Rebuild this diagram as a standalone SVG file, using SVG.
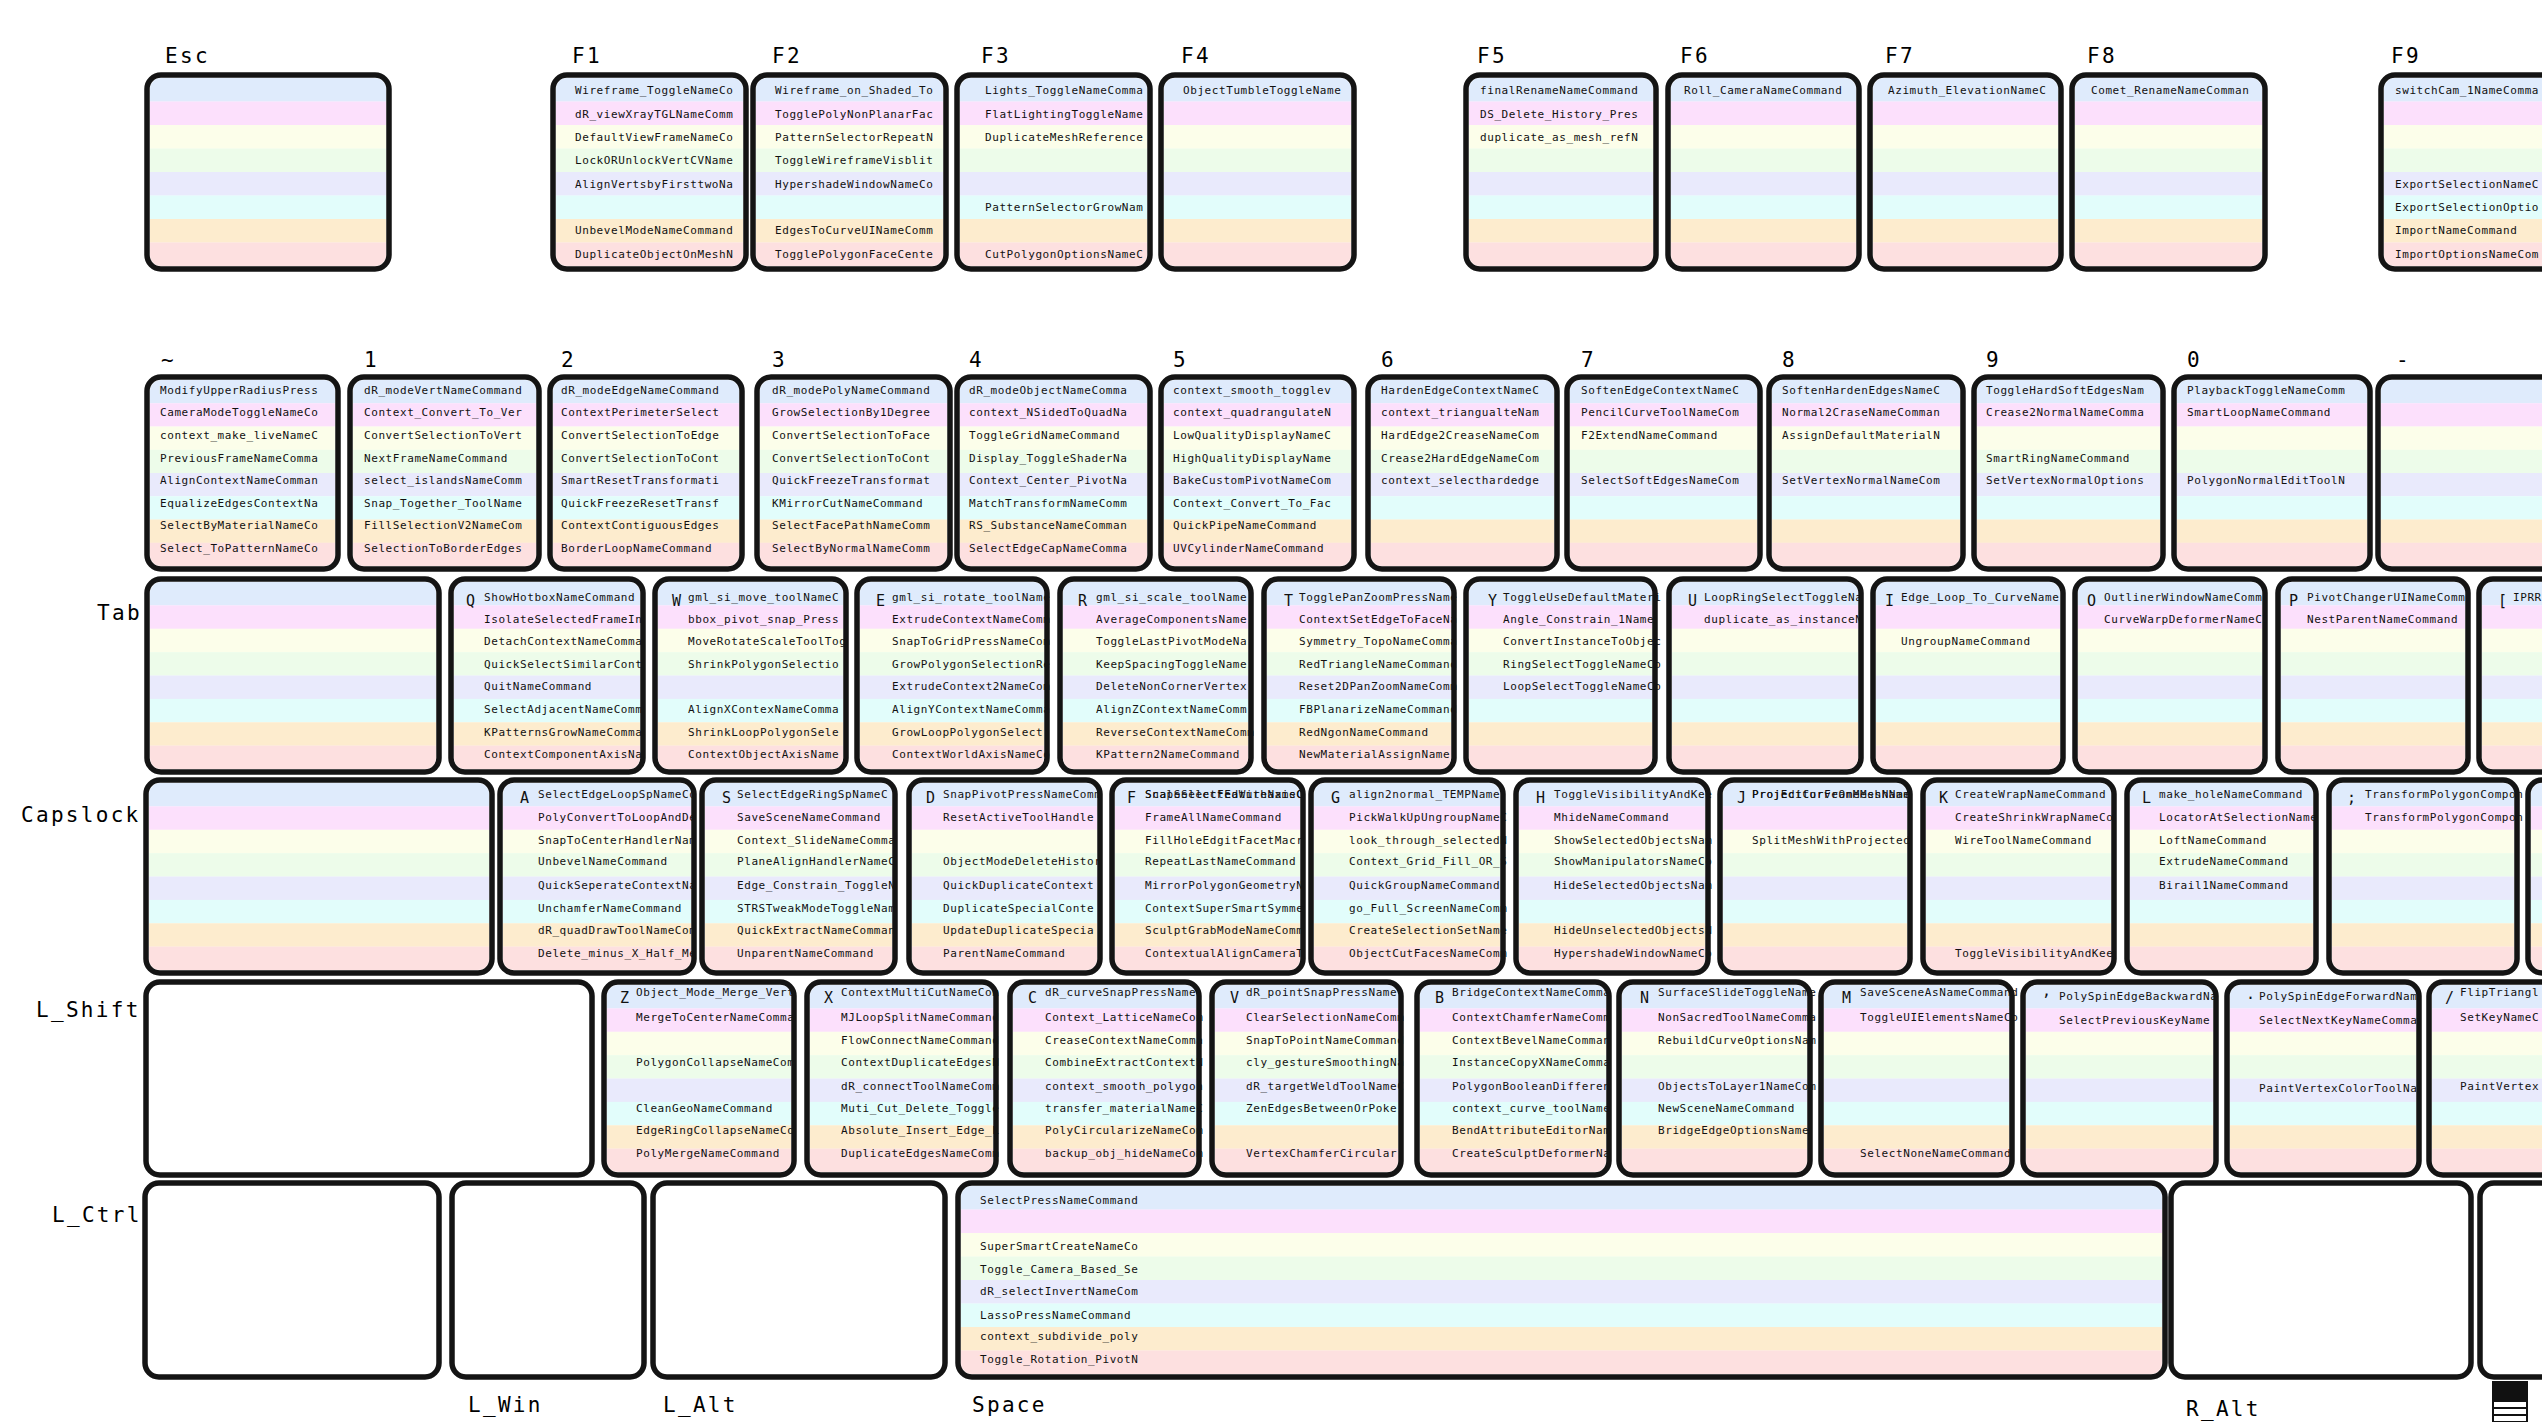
<svg xmlns="http://www.w3.org/2000/svg" width="2542" height="1422" viewBox="0 0 2542 1422">
<defs>
<pattern id="st" width="1" height="1" patternContentUnits="objectBoundingBox">
<rect y="0" width="1" height="0.126" fill="#dfebfc"/>
<rect y="0.125" width="1" height="0.126" fill="#fce0fc"/>
<rect y="0.25" width="1" height="0.126" fill="#fcfeea"/>
<rect y="0.375" width="1" height="0.126" fill="#edfcea"/>
<rect y="0.5" width="1" height="0.126" fill="#e9eafc"/>
<rect y="0.625" width="1" height="0.126" fill="#e2fdfb"/>
<rect y="0.75" width="1" height="0.126" fill="#fdecce"/>
<rect y="0.875" width="1" height="0.125" fill="#fde0e0"/>
</pattern>
</defs>
<style>
.k{fill:none;stroke:#141414;stroke-width:5.5}
.w{fill:#fff;stroke:#141414;stroke-width:5.5}
.s{fill:url(#st)}
.t{font-family:"DejaVu Sans Mono","Liberation Mono",monospace;font-size:11px;letter-spacing:0.58px;fill:#111}
.l{font-family:"DejaVu Sans Mono","Liberation Mono",monospace;font-size:21px;letter-spacing:2.3px;fill:#000}
.c{font-family:"DejaVu Sans Mono","Liberation Mono",monospace;font-size:15px;fill:#111}
</style>
<rect width="2542" height="1422" fill="#fff"/>

<g id="labels">
<text class="l" x="165" y="63">Esc</text>
<text class="l" x="572" y="63">F1</text>
<text class="l" x="772" y="63">F2</text>
<text class="l" x="981" y="63">F3</text>
<text class="l" x="1181" y="63">F4</text>
<text class="l" x="1477" y="63">F5</text>
<text class="l" x="1680" y="63">F6</text>
<text class="l" x="1885" y="63">F7</text>
<text class="l" x="2087" y="63">F8</text>
<text class="l" x="2391" y="63">F9</text>
<text class="l" x="161" y="367">~</text>
<text class="l" x="364" y="367">1</text>
<text class="l" x="561" y="367">2</text>
<text class="l" x="772" y="367">3</text>
<text class="l" x="969" y="367">4</text>
<text class="l" x="1173" y="367">5</text>
<text class="l" x="1381" y="367">6</text>
<text class="l" x="1581" y="367">7</text>
<text class="l" x="1782" y="367">8</text>
<text class="l" x="1986" y="367">9</text>
<text class="l" x="2187" y="367">0</text>
<text class="l" x="2396" y="367">-</text>
<text class="l" x="97" y="620">Tab</text>
<text class="l" x="21" y="822">Capslock</text>
<text class="l" x="36" y="1017">L_Shift</text>
<text class="l" x="52" y="1222">L_Ctrl</text>
<text class="l" x="468" y="1412">L_Win</text>
<text class="l" x="663" y="1412">L_Alt</text>
<text class="l" x="972" y="1412">Space</text>
<text class="l" x="2186" y="1416">R_Alt</text>
</g>

<g id="row-f">
<g id="key-esc"><rect class="s" x="150" y="78" width="236" height="188" rx="11"/><rect class="k" x="147" y="75" width="242" height="194" rx="14"/></g>
<g id="key-f1"><rect class="s" x="556" y="78" width="187" height="188" rx="11"/>
<text class="t"><tspan x="575" y="94">Wireframe_ToggleNameCo</tspan><tspan x="575" y="117.5">dR_viewXrayTGLNameComm</tspan><tspan x="575" y="141">DefaultViewFrameNameCo</tspan><tspan x="575" y="164">LockORUnlockVertCVName</tspan><tspan x="575" y="187.5">AlignVertsbyFirsttwoNa</tspan><tspan x="575" y="234">UnbevelModeNameCommand</tspan><tspan x="575" y="257.5">DuplicateObjectOnMeshN</tspan></text>
<rect class="k" x="553" y="75" width="193" height="194" rx="14"/></g>
<g id="key-f2"><rect class="s" x="756" y="78" width="187" height="188" rx="11"/>
<text class="t"><tspan x="775" y="94">Wireframe_on_Shaded_To</tspan><tspan x="775" y="117.5">TogglePolyNonPlanarFac</tspan><tspan x="775" y="141">PatternSelectorRepeatN</tspan><tspan x="775" y="164">ToggleWireframeVisblit</tspan><tspan x="775" y="187.5">HypershadeWindowNameCo</tspan><tspan x="775" y="234">EdgesToCurveUINameComm</tspan><tspan x="775" y="257.5">TogglePolygonFaceCente</tspan></text>
<rect class="k" x="753" y="75" width="193" height="194" rx="14"/></g>
<g id="key-f3"><rect class="s" x="960" y="78" width="187" height="188" rx="11"/>
<text class="t"><tspan x="985" y="94">Lights_ToggleNameComma</tspan><tspan x="985" y="117.5">FlatLightingToggleName</tspan><tspan x="985" y="141">DuplicateMeshReference</tspan><tspan x="985" y="211">PatternSelectorGrowNam</tspan><tspan x="985" y="257.5">CutPolygonOptionsNameC</tspan></text>
<rect class="k" x="957" y="75" width="193" height="194" rx="14"/></g>
<g id="key-f4"><rect class="s" x="1164" y="78" width="187" height="188" rx="11"/>
<text class="t"><tspan x="1183" y="94">ObjectTumbleToggleName</tspan></text>
<rect class="k" x="1161" y="75" width="193" height="194" rx="14"/></g>
<g id="key-f5"><rect class="s" x="1469" y="78" width="184" height="188" rx="11"/>
<text class="t"><tspan x="1480" y="94">finalRenameNameCommand</tspan><tspan x="1480" y="117.5">DS_Delete_History_Pres</tspan><tspan x="1480" y="141">duplicate_as_mesh_refN</tspan></text>
<rect class="k" x="1466" y="75" width="190" height="194" rx="14"/></g>
<g id="key-f6"><rect class="s" x="1671" y="78" width="185" height="188" rx="11"/>
<text class="t"><tspan x="1684" y="94">Roll_CameraNameCommand</tspan></text>
<rect class="k" x="1668" y="75" width="191" height="194" rx="14"/></g>
<g id="key-f7"><rect class="s" x="1873" y="78" width="185" height="188" rx="11"/>
<text class="t"><tspan x="1888" y="94">Azimuth_ElevationNameC</tspan></text>
<rect class="k" x="1870" y="75" width="191" height="194" rx="14"/></g>
<g id="key-f8"><rect class="s" x="2075" y="78" width="187" height="188" rx="11"/>
<text class="t"><tspan x="2091" y="94">Comet_RenameNameComman</tspan></text>
<rect class="k" x="2072" y="75" width="193" height="194" rx="14"/></g>
<g id="key-f9"><rect class="s" x="2384" y="78" width="194" height="188" rx="11"/>
<text class="t"><tspan x="2395" y="94">switchCam_1NameComma</tspan><tspan x="2395" y="187.5">ExportSelectionNameC</tspan><tspan x="2395" y="211">ExportSelectionOptio</tspan><tspan x="2395" y="234">ImportNameCommand</tspan><tspan x="2395" y="257.5">ImportOptionsNameCom</tspan></text>
<rect class="k" x="2381" y="75" width="200" height="194" rx="14"/></g>
</g>

<g id="row-num">
<g id="key-tilde"><rect class="s" x="150" y="380" width="185" height="186" rx="11"/>
<text class="t"><tspan x="160" y="394">ModifyUpperRadiusPress</tspan><tspan x="160" y="416">CameraModeToggleNameCo</tspan><tspan x="160" y="438.5">context_make_liveNameC</tspan><tspan x="160" y="461.5">PreviousFrameNameComma</tspan><tspan x="160" y="483.5">AlignContextNameComman</tspan><tspan x="160" y="507">EqualizeEdgesContextNa</tspan><tspan x="160" y="529">SelectByMaterialNameCo</tspan><tspan x="160" y="551.5">Select_ToPatternNameCo</tspan></text>
<rect class="k" x="147" y="377" width="191" height="192" rx="14"/></g>
<g id="key-1"><rect class="s" x="353" y="380" width="183" height="186" rx="11"/>
<text class="t"><tspan x="364" y="394">dR_modeVertNameCommand</tspan><tspan x="364" y="416">Context_Convert_To_Ver</tspan><tspan x="364" y="438.5">ConvertSelectionToVert</tspan><tspan x="364" y="461.5">NextFrameNameCommand</tspan><tspan x="364" y="483.5">select_islandsNameComm</tspan><tspan x="364" y="507">Snap_Together_ToolName</tspan><tspan x="364" y="529">FillSelectionV2NameCom</tspan><tspan x="364" y="551.5">SelectionToBorderEdges</tspan></text>
<rect class="k" x="350" y="377" width="189" height="192" rx="14"/></g>
<g id="key-2"><rect class="s" x="553" y="380" width="186" height="186" rx="11"/>
<text class="t"><tspan x="561" y="394">dR_modeEdgeNameCommand</tspan><tspan x="561" y="416">ContextPerimeterSelect</tspan><tspan x="561" y="438.5">ConvertSelectionToEdge</tspan><tspan x="561" y="461.5">ConvertSelectionToCont</tspan><tspan x="561" y="483.5">SmartResetTransformati</tspan><tspan x="561" y="507">QuickFreezeResetTransf</tspan><tspan x="561" y="529">ContextContiguousEdges</tspan><tspan x="561" y="551.5">BorderLoopNameCommand</tspan></text>
<rect class="k" x="550" y="377" width="192" height="192" rx="14"/></g>
<g id="key-3"><rect class="s" x="760" y="380" width="187" height="186" rx="11"/>
<text class="t"><tspan x="772" y="394">dR_modePolyNameCommand</tspan><tspan x="772" y="416">GrowSelectionBy1Degree</tspan><tspan x="772" y="438.5">ConvertSelectionToFace</tspan><tspan x="772" y="461.5">ConvertSelectionToCont</tspan><tspan x="772" y="483.5">QuickFreezeTransformat</tspan><tspan x="772" y="507">KMirrorCutNameCommand</tspan><tspan x="772" y="529">SelectFacePathNameComm</tspan><tspan x="772" y="551.5">SelectByNormalNameComm</tspan></text>
<rect class="k" x="757" y="377" width="193" height="192" rx="14"/></g>
<g id="key-4"><rect class="s" x="960" y="380" width="187" height="186" rx="11"/>
<text class="t"><tspan x="969" y="394">dR_modeObjectNameComma</tspan><tspan x="969" y="416">context_NSidedToQuadNa</tspan><tspan x="969" y="438.5">ToggleGridNameCommand</tspan><tspan x="969" y="461.5">Display_ToggleShaderNa</tspan><tspan x="969" y="483.5">Context_Center_PivotNa</tspan><tspan x="969" y="507">MatchTransformNameComm</tspan><tspan x="969" y="529">RS_SubstanceNameComman</tspan><tspan x="969" y="551.5">SelectEdgeCapNameComma</tspan></text>
<rect class="k" x="957" y="377" width="193" height="192" rx="14"/></g>
<g id="key-5"><rect class="s" x="1164" y="380" width="187" height="186" rx="11"/>
<text class="t"><tspan x="1173" y="394">context_smooth_togglev</tspan><tspan x="1173" y="416">context_quadrangulateN</tspan><tspan x="1173" y="438.5">LowQualityDisplayNameC</tspan><tspan x="1173" y="461.5">HighQualityDisplayName</tspan><tspan x="1173" y="483.5">BakeCustomPivotNameCom</tspan><tspan x="1173" y="507">Context_Convert_To_Fac</tspan><tspan x="1173" y="529">QuickPipeNameCommand</tspan><tspan x="1173" y="551.5">UVCylinderNameCommand</tspan></text>
<rect class="k" x="1161" y="377" width="193" height="192" rx="14"/></g>
<g id="key-6"><rect class="s" x="1371" y="380" width="183" height="186" rx="11"/>
<text class="t"><tspan x="1381" y="394">HardenEdgeContextNameC</tspan><tspan x="1381" y="416">context_triangualteNam</tspan><tspan x="1381" y="438.5">HardEdge2CreaseNameCom</tspan><tspan x="1381" y="461.5">Crease2HardEdgeNameCom</tspan><tspan x="1381" y="483.5">context_selecthardedge</tspan></text>
<rect class="k" x="1368" y="377" width="189" height="192" rx="14"/></g>
<g id="key-7"><rect class="s" x="1570" y="380" width="187" height="186" rx="11"/>
<text class="t"><tspan x="1581" y="394">SoftenEdgeContextNameC</tspan><tspan x="1581" y="416">PencilCurveToolNameCom</tspan><tspan x="1581" y="438.5">F2ExtendNameCommand</tspan><tspan x="1581" y="483.5">SelectSoftEdgesNameCom</tspan></text>
<rect class="k" x="1567" y="377" width="193" height="192" rx="14"/></g>
<g id="key-8"><rect class="s" x="1772" y="380" width="188" height="186" rx="11"/>
<text class="t"><tspan x="1782" y="394">SoftenHardenEdgesNameC</tspan><tspan x="1782" y="416">Normal2CraseNameComman</tspan><tspan x="1782" y="438.5">AssignDefaultMaterialN</tspan><tspan x="1782" y="483.5">SetVertexNormalNameCom</tspan></text>
<rect class="k" x="1769" y="377" width="194" height="192" rx="14"/></g>
<g id="key-9"><rect class="s" x="1977" y="380" width="183" height="186" rx="11"/>
<text class="t"><tspan x="1986" y="394">ToggleHardSoftEdgesNam</tspan><tspan x="1986" y="416">Crease2NormalNameComma</tspan><tspan x="1986" y="461.5">SmartRingNameCommand</tspan><tspan x="1986" y="483.5">SetVertexNormalOptions</tspan></text>
<rect class="k" x="1974" y="377" width="189" height="192" rx="14"/></g>
<g id="key-0"><rect class="s" x="2177" y="380" width="190" height="186" rx="11"/>
<text class="t"><tspan x="2187" y="394">PlaybackToggleNameComm</tspan><tspan x="2187" y="416">SmartLoopNameCommand</tspan><tspan x="2187" y="483.5">PolygonNormalEditToolN</tspan></text>
<rect class="k" x="2174" y="377" width="196" height="192" rx="14"/></g>
<g id="key-minus"><rect class="s" x="2381" y="380" width="194" height="186" rx="11"/><rect class="k" x="2378" y="377" width="200" height="192" rx="14"/></g>
</g>

<g id="row-tab">
<g id="key-tab"><rect class="s" x="150" y="582" width="286" height="187" rx="11"/><rect class="k" x="147" y="579" width="292" height="193" rx="14"/></g>
<g id="key-q"><rect class="s" x="454" y="582" width="186" height="187" rx="11"/>
<text class="c" x="466" y="606">Q</text>
<text class="t"><tspan x="484" y="600.5">ShowHotboxNameCommand</tspan><tspan x="484" y="622.5">IsolateSelectedFrameIn</tspan><tspan x="484" y="645">DetachContextNameComma</tspan><tspan x="484" y="667.5">QuickSelectSimilarCont</tspan><tspan x="484" y="690">QuitNameCommand</tspan><tspan x="484" y="712.5">SelectAdjacentNameComm</tspan><tspan x="484" y="735.5">KPatternsGrowNameComma</tspan><tspan x="484" y="758">ContextComponentAxisNa</tspan></text>
<rect class="k" x="451" y="579" width="192" height="193" rx="14"/></g>
<g id="key-w"><rect class="s" x="658" y="582" width="185" height="187" rx="11"/>
<text class="c" x="672" y="606">W</text>
<text class="t"><tspan x="688" y="600.5">gml_si_move_toolNameC</tspan><tspan x="688" y="622.5">bbox_pivot_snap_Press</tspan><tspan x="688" y="645">MoveRotateScaleToolTog</tspan><tspan x="688" y="667.5">ShrinkPolygonSelectio</tspan><tspan x="688" y="712.5">AlignXContexNameComma</tspan><tspan x="688" y="735.5">ShrinkLoopPolygonSele</tspan><tspan x="688" y="758">ContextObjectAxisName</tspan></text>
<rect class="k" x="655" y="579" width="191" height="193" rx="14"/></g>
<g id="key-e"><rect class="s" x="860" y="582" width="184" height="187" rx="11"/>
<text class="c" x="876" y="606">E</text>
<text class="t"><tspan x="892" y="600.5">gml_si_rotate_toolName</tspan><tspan x="892" y="622.5">ExtrudeContextNameComm</tspan><tspan x="892" y="645">SnapToGridPressNameCom</tspan><tspan x="892" y="667.5">GrowPolygonSelectionRe</tspan><tspan x="892" y="690">ExtrudeContext2NameCom</tspan><tspan x="892" y="712.5">AlignYContextNameComma</tspan><tspan x="892" y="735.5">GrowLoopPolygonSelect</tspan><tspan x="892" y="758">ContextWorldAxisNameCo</tspan></text>
<rect class="k" x="857" y="579" width="190" height="193" rx="14"/></g>
<g id="key-r"><rect class="s" x="1063" y="582" width="185" height="187" rx="11"/>
<text class="c" x="1078" y="606">R</text>
<text class="t"><tspan x="1096" y="600.5">gml_si_scale_toolName</tspan><tspan x="1096" y="622.5">AverageComponentsName</tspan><tspan x="1096" y="645">ToggleLastPivotModeNa</tspan><tspan x="1096" y="667.5">KeepSpacingToggleName</tspan><tspan x="1096" y="690">DeleteNonCornerVertex</tspan><tspan x="1096" y="712.5">AlignZContextNameComm</tspan><tspan x="1096" y="735.5">ReverseContextNameComm</tspan><tspan x="1096" y="758">KPattern2NameCommand</tspan></text>
<rect class="k" x="1060" y="579" width="191" height="193" rx="14"/></g>
<g id="key-t"><rect class="s" x="1267" y="582" width="184" height="187" rx="11"/>
<text class="c" x="1284" y="606">T</text>
<text class="t"><tspan x="1299" y="600.5">TogglePanZoomPressName</tspan><tspan x="1299" y="622.5">ContextSetEdgeToFaceNa</tspan><tspan x="1299" y="645">Symmetry_TopoNameComma</tspan><tspan x="1299" y="667.5">RedTriangleNameCommand</tspan><tspan x="1299" y="690">Reset2DPanZoomNameComm</tspan><tspan x="1299" y="712.5">FBPlanarizeNameCommand</tspan><tspan x="1299" y="735.5">RedNgonNameCommand</tspan><tspan x="1299" y="758">NewMaterialAssignName</tspan></text>
<rect class="k" x="1264" y="579" width="190" height="193" rx="14"/></g>
<g id="key-y"><rect class="s" x="1469" y="582" width="183" height="187" rx="11"/>
<text class="c" x="1488" y="606">Y</text>
<text class="t"><tspan x="1503" y="600.5">ToggleUseDefaultMateri</tspan><tspan x="1503" y="622.5">Angle_Constrain_1Name</tspan><tspan x="1503" y="645">ConvertInstanceToObjec</tspan><tspan x="1503" y="667.5">RingSelectToggleNameCo</tspan><tspan x="1503" y="690">LoopSelectToggleNameCo</tspan></text>
<rect class="k" x="1466" y="579" width="189" height="193" rx="14"/></g>
<g id="key-u"><rect class="s" x="1672" y="582" width="186" height="187" rx="11"/>
<text class="c" x="1688" y="606">U</text>
<text class="t"><tspan x="1704" y="600.5">LoopRingSelectToggleNa</tspan><tspan x="1704" y="622.5">duplicate_as_instanceN</tspan></text>
<rect class="k" x="1669" y="579" width="192" height="193" rx="14"/></g>
<g id="key-i"><rect class="s" x="1876" y="582" width="184" height="187" rx="11"/>
<text class="c" x="1885" y="606">I</text>
<text class="t"><tspan x="1901" y="600.5">Edge_Loop_To_CurveName</tspan><tspan x="1901" y="645">UngroupNameCommand</tspan></text>
<rect class="k" x="1873" y="579" width="190" height="193" rx="14"/></g>
<g id="key-o"><rect class="s" x="2078" y="582" width="184" height="187" rx="11"/>
<text class="c" x="2087" y="606">O</text>
<text class="t"><tspan x="2104" y="600.5">OutlinerWindowNameComm</tspan><tspan x="2104" y="622.5">CurveWarpDeformerNameC</tspan></text>
<rect class="k" x="2075" y="579" width="190" height="193" rx="14"/></g>
<g id="key-p"><rect class="s" x="2281" y="582" width="184" height="187" rx="11"/>
<text class="c" x="2289" y="606">P</text>
<text class="t"><tspan x="2307" y="600.5">PivotChangerUINameComm</tspan><tspan x="2307" y="622.5">NestParentNameCommand</tspan></text>
<rect class="k" x="2278" y="579" width="190" height="193" rx="14"/></g>
<g id="key-lbracket"><rect class="s" x="2482" y="582" width="194" height="187" rx="11"/>
<text class="c" x="2498" y="606">[</text>
<text class="t"><tspan x="2513" y="600.5">IPRR</tspan></text>
<rect class="k" x="2479" y="579" width="200" height="193" rx="14"/></g>
</g>

<g id="row-caps">
<g id="key-caps"><rect class="s" x="149" y="783" width="340" height="187" rx="11"/><rect class="k" x="146" y="780" width="346" height="193" rx="14"/></g>
<g id="key-a"><rect class="s" x="503" y="783" width="188" height="187" rx="11"/>
<text class="c" x="520" y="803">A</text>
<text class="t"><tspan x="538" y="797.5">SelectEdgeLoopSpNameCo</tspan><tspan x="538" y="820.5">PolyConvertToLoopAndDe</tspan><tspan x="538" y="843.5">SnapToCenterHandlerNam</tspan><tspan x="538" y="865">UnbevelNameCommand</tspan><tspan x="538" y="889">QuickSeperateContextNa</tspan><tspan x="538" y="911.5">UnchamferNameCommand</tspan><tspan x="538" y="934">dR_quadDrawToolNameCom</tspan><tspan x="538" y="956.5">Delete_minus_X_Half_Me</tspan></text>
<rect class="k" x="500" y="780" width="194" height="193" rx="14"/></g>
<g id="key-s"><rect class="s" x="705" y="783" width="187" height="187" rx="11"/>
<text class="c" x="722" y="803">S</text>
<text class="t"><tspan x="737" y="797.5">SelectEdgeRingSpNameC</tspan><tspan x="737" y="820.5">SaveSceneNameCommand</tspan><tspan x="737" y="843.5">Context_SlideNameComma</tspan><tspan x="737" y="865">PlaneAlignHandlerNameC</tspan><tspan x="737" y="889">Edge_Constrain_ToggleN</tspan><tspan x="737" y="911.5">STRSTweakModeToggleNam</tspan><tspan x="737" y="934">QuickExtractNameComman</tspan><tspan x="737" y="956.5">UnparentNameCommand</tspan></text>
<rect class="k" x="702" y="780" width="193" height="193" rx="14"/></g>
<g id="key-d"><rect class="s" x="912" y="783" width="185" height="187" rx="11"/>
<text class="c" x="926" y="803">D</text>
<text class="t"><tspan x="943" y="797.5">SnapPivotPressNameComm</tspan><tspan x="943" y="820.5">ResetActiveToolHandle</tspan><tspan x="943" y="865">ObjectModeDeleteHistor</tspan><tspan x="943" y="889">QuickDuplicateContext</tspan><tspan x="943" y="911.5">DuplicateSpecialConte</tspan><tspan x="943" y="934">UpdateDuplicateSpecia</tspan><tspan x="943" y="956.5">ParentNameCommand</tspan></text>
<rect class="k" x="909" y="780" width="191" height="193" rx="14"/></g>
<g id="key-f"><rect class="s" x="1115" y="783" width="185" height="187" rx="11"/>
<text class="c" x="1127" y="803">F</text>
<text class="t"><tspan x="1145" y="797.5">ScaleSelectEdWithaxisC</tspan><tspan x="1145" y="820.5">FrameAllNameCommand</tspan><tspan x="1145" y="843.5">FillHoleEdgitFacetMacr</tspan><tspan x="1145" y="865">RepeatLastNameCommand</tspan><tspan x="1145" y="889">MirrorPolygonGeometryN</tspan><tspan x="1145" y="911.5">ContextSuperSmartSymme</tspan><tspan x="1145" y="934">SculptGrabModeNameComm</tspan><tspan x="1145" y="956.5">ContextualAlignCameraT</tspan></text>
<text class="t" x="1145" y="797.5">SnapSelectFeatureNameC</text>
<rect class="k" x="1112" y="780" width="191" height="193" rx="14"/></g>
<g id="key-g"><rect class="s" x="1314" y="783" width="186" height="187" rx="11"/>
<text class="c" x="1331" y="803">G</text>
<text class="t"><tspan x="1349" y="797.5">align2normal_TEMPName</tspan><tspan x="1349" y="820.5">PickWalkUpUngroupNameC</tspan><tspan x="1349" y="843.5">look_through_selectedN</tspan><tspan x="1349" y="865">Context_Grid_Fill_OR_S</tspan><tspan x="1349" y="889">QuickGroupNameCommand</tspan><tspan x="1349" y="911.5">go_Full_ScreenNameComm</tspan><tspan x="1349" y="934">CreateSelectionSetName</tspan><tspan x="1349" y="956.5">ObjectCutFacesNameComm</tspan></text>
<rect class="k" x="1311" y="780" width="192" height="193" rx="14"/></g>
<g id="key-h"><rect class="s" x="1519" y="783" width="186" height="187" rx="11"/>
<text class="c" x="1536" y="803">H</text>
<text class="t"><tspan x="1554" y="797.5">ToggleVisibilityAndKee</tspan><tspan x="1554" y="820.5">MhideNameCommand</tspan><tspan x="1554" y="843.5">ShowSelectedObjectsNam</tspan><tspan x="1554" y="865">ShowManipulatorsNameCo</tspan><tspan x="1554" y="889">HideSelectedObjectsNam</tspan><tspan x="1554" y="934">HideUnselectedObjectsN</tspan><tspan x="1554" y="956.5">HypershadeWindowNameCo</tspan></text>
<rect class="k" x="1516" y="780" width="192" height="193" rx="14"/></g>
<g id="key-j"><rect class="s" x="1723" y="783" width="184" height="187" rx="11"/>
<text class="c" x="1737" y="803">J</text>
<text class="t"><tspan x="1752" y="797.5">ProjectCurveOnMeshName</tspan><tspan x="1752" y="843.5">SplitMeshWithProjected</tspan></text>
<text class="t" x="1752" y="797.5">ProjEditorFrameMeshNam</text>
<rect class="k" x="1720" y="780" width="190" height="193" rx="14"/></g>
<g id="key-k"><rect class="s" x="1926" y="783" width="185" height="187" rx="11"/>
<text class="c" x="1939" y="803">K</text>
<text class="t"><tspan x="1955" y="797.5">CreateWrapNameCommand</tspan><tspan x="1955" y="820.5">CreateShrinkWrapNameCo</tspan><tspan x="1955" y="843.5">WireToolNameCommand</tspan><tspan x="1955" y="956.5">ToggleVisibilityAndKee</tspan></text>
<rect class="k" x="1923" y="780" width="191" height="193" rx="14"/></g>
<g id="key-l"><rect class="s" x="2130" y="783" width="183" height="187" rx="11"/>
<text class="c" x="2142" y="803">L</text>
<text class="t"><tspan x="2159" y="797.5">make_holeNameCommand</tspan><tspan x="2159" y="820.5">LocatorAtSelectionName</tspan><tspan x="2159" y="843.5">LoftNameCommand</tspan><tspan x="2159" y="865">ExtrudeNameCommand</tspan><tspan x="2159" y="889">Birail1NameCommand</tspan></text>
<rect class="k" x="2127" y="780" width="189" height="193" rx="14"/></g>
<g id="key-semicolon"><rect class="s" x="2332" y="783" width="182" height="187" rx="11"/>
<text class="c" x="2347" y="803">;</text>
<text class="t"><tspan x="2365" y="797.5">TransformPolygonCompon</tspan><tspan x="2365" y="820.5">TransformPolygonCompon</tspan></text>
<rect class="k" x="2329" y="780" width="188" height="193" rx="14"/></g>
<g id="key-quote"><rect class="s" x="2531" y="783" width="94" height="187" rx="11"/><rect class="k" x="2528" y="780" width="100" height="193" rx="14"/></g>
</g>

<g id="row-shift">
<g id="key-lshift"><rect class="w" x="146" y="982" width="446" height="193" rx="14"/></g>
<g id="key-z"><rect class="s" x="607" y="985" width="184" height="187" rx="11"/>
<text class="c" x="620" y="1003">Z</text>
<text class="t"><tspan x="636" y="996">Object_Mode_Merge_Vert</tspan><tspan x="636" y="1021">MergeToCenterNameComma</tspan><tspan x="636" y="1066">PolygonCollapseNameCom</tspan><tspan x="636" y="1112">CleanGeoNameCommand</tspan><tspan x="636" y="1134">EdgeRingCollapseNameCo</tspan><tspan x="636" y="1157">PolyMergeNameCommand</tspan></text>
<rect class="k" x="604" y="982" width="190" height="193" rx="14"/></g>
<g id="key-x"><rect class="s" x="810" y="985" width="183" height="187" rx="11"/>
<text class="c" x="824" y="1003">X</text>
<text class="t"><tspan x="841" y="996">ContextMultiCutNameCom</tspan><tspan x="841" y="1021">MJLoopSplitNameCommand</tspan><tspan x="841" y="1044">FlowConnectNameCommand</tspan><tspan x="841" y="1066">ContextDuplicateEdgesN</tspan><tspan x="841" y="1090">dR_connectToolNameComm</tspan><tspan x="841" y="1112">Muti_Cut_Delete_Toggle</tspan><tspan x="841" y="1134">Absolute_Insert_Edge_L</tspan><tspan x="841" y="1157">DuplicateEdgesNameComm</tspan></text>
<rect class="k" x="807" y="982" width="189" height="193" rx="14"/></g>
<g id="key-c"><rect class="s" x="1013" y="985" width="183" height="187" rx="11"/>
<text class="c" x="1028" y="1003">C</text>
<text class="t"><tspan x="1045" y="996">dR_curveSnapPressName</tspan><tspan x="1045" y="1021">Context_LatticeNameCom</tspan><tspan x="1045" y="1044">CreaseContextNameComma</tspan><tspan x="1045" y="1066">CombineExtractContextN</tspan><tspan x="1045" y="1090">context_smooth_polygon</tspan><tspan x="1045" y="1112">transfer_materialNameC</tspan><tspan x="1045" y="1134">PolyCircularizeNameCom</tspan><tspan x="1045" y="1157">backup_obj_hideNameCom</tspan></text>
<rect class="k" x="1010" y="982" width="189" height="193" rx="14"/></g>
<g id="key-v"><rect class="s" x="1215" y="985" width="183" height="187" rx="11"/>
<text class="c" x="1230" y="1003">V</text>
<text class="t"><tspan x="1246" y="996">dR_pointSnapPressName</tspan><tspan x="1246" y="1021">ClearSelectionNameComm</tspan><tspan x="1246" y="1044">SnapToPointNameCommand</tspan><tspan x="1246" y="1066">cly_gestureSmoothingNa</tspan><tspan x="1246" y="1090">dR_targetWeldToolNameC</tspan><tspan x="1246" y="1112">ZenEdgesBetweenOrPoke</tspan><tspan x="1246" y="1157">VertexChamferCircular</tspan></text>
<rect class="k" x="1212" y="982" width="189" height="193" rx="14"/></g>
<g id="key-b"><rect class="s" x="1420" y="985" width="186" height="187" rx="11"/>
<text class="c" x="1435" y="1003">B</text>
<text class="t"><tspan x="1452" y="996">BridgeContextNameComma</tspan><tspan x="1452" y="1021">ContextChamferNameComm</tspan><tspan x="1452" y="1044">ContextBevelNameComman</tspan><tspan x="1452" y="1066">InstanceCopyXNameComma</tspan><tspan x="1452" y="1090">PolygonBooleanDifferen</tspan><tspan x="1452" y="1112">context_curve_toolName</tspan><tspan x="1452" y="1134">BendAttributeEditorNam</tspan><tspan x="1452" y="1157">CreateSculptDeformerNa</tspan></text>
<rect class="k" x="1417" y="982" width="192" height="193" rx="14"/></g>
<g id="key-n"><rect class="s" x="1622" y="985" width="185" height="187" rx="11"/>
<text class="c" x="1640" y="1003">N</text>
<text class="t"><tspan x="1658" y="996">SurfaceSlideToggleName</tspan><tspan x="1658" y="1021">NonSacredToolNameComma</tspan><tspan x="1658" y="1044">RebuildCurveOptionsNam</tspan><tspan x="1658" y="1090">ObjectsToLayer1NameCom</tspan><tspan x="1658" y="1112">NewSceneNameCommand</tspan><tspan x="1658" y="1134">BridgeEdgeOptionsName</tspan></text>
<rect class="k" x="1619" y="982" width="191" height="193" rx="14"/></g>
<g id="key-m"><rect class="s" x="1824" y="985" width="185" height="187" rx="11"/>
<text class="c" x="1842" y="1003">M</text>
<text class="t"><tspan x="1860" y="996">SaveSceneAsNameCommand</tspan><tspan x="1860" y="1021">ToggleUIElementsNameCo</tspan><tspan x="1860" y="1157">SelectNoneNameCommand</tspan></text>
<rect class="k" x="1821" y="982" width="191" height="193" rx="14"/></g>
<g id="key-comma"><rect class="s" x="2026" y="985" width="187" height="187" rx="11"/>
<text class="c" x="2042" y="996">,</text>
<text class="t"><tspan x="2059" y="1000">PolySpinEdgeBackwardNa</tspan><tspan x="2059" y="1024">SelectPreviousKeyName</tspan></text>
<rect class="k" x="2023" y="982" width="193" height="193" rx="14"/></g>
<g id="key-period"><rect class="s" x="2230" y="985" width="186" height="187" rx="11"/>
<text class="c" x="2246" y="999">.</text>
<text class="t"><tspan x="2259" y="1000">PolySpinEdgeForwardNam</tspan><tspan x="2259" y="1024">SelectNextKeyNameComma</tspan><tspan x="2259" y="1092">PaintVertexColorToolNa</tspan></text>
<rect class="k" x="2227" y="982" width="192" height="193" rx="14"/></g>
<g id="key-slash"><rect class="s" x="2432" y="985" width="194" height="187" rx="11"/>
<text class="c" x="2445" y="1003">/</text>
<text class="t"><tspan x="2460" y="996">FlipTriangl</tspan><tspan x="2460" y="1021">SetKeyNameC</tspan><tspan x="2460" y="1090">PaintVertex</tspan></text>
<rect class="k" x="2429" y="982" width="200" height="193" rx="14"/></g>
</g>

<g id="row-ctrl">
<g id="key-lctrl"><rect class="w" x="145" y="1183" width="294" height="194" rx="14"/></g>
<g id="key-lwin"><rect class="w" x="452" y="1183" width="192" height="194" rx="14"/></g>
<g id="key-lalt"><rect class="w" x="653" y="1183" width="292" height="194" rx="14"/></g>
<g id="key-space"><rect class="s" x="961" y="1186" width="1201" height="188" rx="11"/>
<text class="t"><tspan x="980" y="1204">SelectPressNameCommand</tspan><tspan x="980" y="1250">SuperSmartCreateNameCo</tspan><tspan x="980" y="1272.5">Toggle_Camera_Based_Se</tspan><tspan x="980" y="1295">dR_selectInvertNameCom</tspan><tspan x="980" y="1318.5">LassoPressNameCommand</tspan><tspan x="980" y="1340">context_subdivide_poly</tspan><tspan x="980" y="1363">Toggle_Rotation_PivotN</tspan></text>
<rect class="k" x="958" y="1183" width="1207" height="194" rx="14"/></g>
<g id="key-ralt"><rect class="w" x="2171" y="1183" width="300" height="194" rx="14"/></g>
<g id="key-rwin"><rect class="w" x="2480" y="1183" width="100" height="194" rx="14"/>
<rect x="2492" y="1381" width="36" height="20" fill="#111"/>
<rect x="2493" y="1401" width="34" height="21" fill="#fff" stroke="#111" stroke-width="2"/>
<path d="M2493 1408h34M2493 1415h34" stroke="#111" stroke-width="2"/>
</g>
</g>
</svg>
